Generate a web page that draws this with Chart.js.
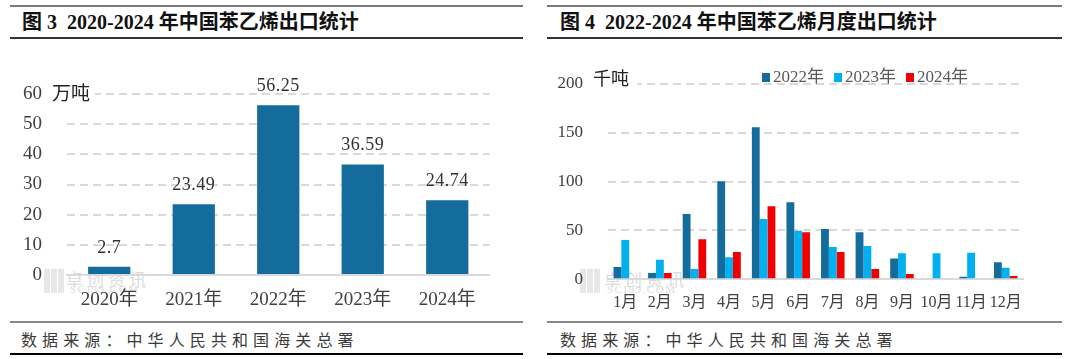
<!DOCTYPE html>
<html><head><meta charset="utf-8">
<script src="https://cdn.jsdelivr.net/npm/chart.js@4"></script>
<style>
body{margin:0;background:#fff;}
#page{position:relative;width:1080px;height:359px;overflow:hidden;background:#fff;}
.ln{position:absolute;height:2px;}
.title{position:absolute;top:9px;height:26px;line-height:26px;font-family:"Liberation Serif","Noto Sans CJK SC",serif;font-weight:bold;font-size:20px;color:#111;white-space:pre;}
.src{position:absolute;top:327px;height:24px;line-height:24px;font-family:"Noto Sans CJK SC",sans-serif;font-size:16px;letter-spacing:5.1px;color:#3a3a3a;white-space:pre;}
.wm{position:absolute;color:#dcdcdc;white-space:pre;}
.wmlogo{position:absolute;width:21px;height:24px;background:repeating-linear-gradient(90deg,#e2e2e2 0 6px,#fff 6px 7px),#e2e2e2;opacity:.8;}
canvas{position:absolute;}
</style></head>
<body>
<div id="page">
  <!-- left panel -->
  <div class="ln" style="left:10px;width:513px;top:5px;background:#7a7a7a"></div>
  <div class="title" style="left:22px">图 3  2020-2024 年中国苯乙烯出口统计</div>
  <div class="ln" style="left:10px;width:513px;top:37px;background:#333"></div>
  <div class="wmlogo" style="left:44px;top:269px"></div>
  <div class="wm" style="left:66px;top:266px;font-family:'Noto Sans CJK SC';font-size:17px;letter-spacing:4px">卓创资讯</div>
  <div class="wm" style="left:70px;top:283px;font-family:'Liberation Serif';font-size:11px;letter-spacing:1.5px">SCI99.COM</div>
  <canvas id="c1" width="513" height="280" style="left:10px;top:40px"></canvas>
  <div class="ln" style="left:10px;width:513px;top:321px;background:#888"></div>
  <div class="src" style="left:21px">数据来源：中华人民共和国海关总署</div>
  <div class="ln" style="left:10px;width:513px;top:353px;background:#000"></div>

  <!-- right panel -->
  <div class="ln" style="left:547px;width:515px;top:5px;background:#7a7a7a"></div>
  <div class="title" style="left:560px">图 4  2022-2024 年中国苯乙烯月度出口统计</div>
  <div class="ln" style="left:547px;width:515px;top:37px;background:#333"></div>
  <div class="wmlogo" style="left:580px;top:269px"></div>
  <div class="wm" style="left:604px;top:266px;font-family:'Noto Sans CJK SC';font-size:17px;letter-spacing:4px">卓创资讯</div>
  <div class="wm" style="left:607px;top:283px;font-family:'Liberation Serif';font-size:11px;letter-spacing:1.5px">SCI99.COM</div>
  <canvas id="c2" width="515" height="280" style="left:547px;top:40px"></canvas>
  <div class="ln" style="left:547px;width:515px;top:321px;background:#888"></div>
  <div class="src" style="left:560px">数据来源：中华人民共和国海关总署</div>
  <div class="ln" style="left:547px;width:515px;top:353px;background:#000"></div>
</div>
<script>
// ---- data ----
const yearCats = ['2020年','2021年','2022年','2023年','2024年'];
const yearVals = [2.7, 23.49, 56.25, 36.59, 24.74];
const yearTicks = [0,10,20,30,40,50,60];
const yearUnit = '万吨';

const months = ['1月','2月','3月','4月','5月','6月','7月','8月','9月','10月','11月','12月'];
const seriesNames = ['2022年','2023年','2024年'];
const exp2022 = [12.6, 6.5, 66.9, 100.3, 155.6, 78.8, 51.5, 48.1, 21.2, null, 2.7, 17.4];
const exp2023 = [40.3, 20.1, 10.6, 22.5, 61.8, 49.8, 33.1, 34.1, 26.6, 26.6, 27.3, 11.9];
const exp2024 = [null, 6.5, 41.0, 28.0, 74.7, 48.1, 28.0, 10.6, 5.5, null, null, 3.4];
const monthTicks = [0,50,100,150,200];
const monthUnit = '千吨';

const SERIF = '"Liberation Serif", "Noto Sans CJK SC", serif';
Chart.defaults.font.family = SERIF;
Chart.defaults.color = '#404040';
Chart.defaults.animation = false;

function unitLabel(text, x, y, rect, size){
  return {
    id:'unit',
    afterDraw(chart){
      const ctx = chart.ctx;
      ctx.save();
      ctx.fillStyle = '#fff';
      ctx.fillRect(rect[0], rect[1], rect[2], rect[3]);
      ctx.fillStyle = '#222';
      ctx.font = size + 'px "Noto Sans CJK SC"';
      ctx.textBaseline = 'middle';
      ctx.textAlign = 'left';
      ctx.fillText(text, x, y);
      ctx.restore();
    }
  };
}

const valueLabels = {
  id:'valueLabels',
  afterDatasetsDraw(chart){
    const ctx = chart.ctx;
    const meta = chart.getDatasetMeta(0);
    const ds = chart.data.datasets[0];
    ctx.save();
    ctx.fillStyle = '#333';
    ctx.font = '18px "Liberation Serif"';
    ctx.textAlign = 'center';
    ctx.textBaseline = 'middle';
    ctx.letterSpacing = '0.5px';
    meta.data.forEach((bar, i) => {
      ctx.fillText(String(ds.data[i]), bar.x, bar.y - 19);
    });
    ctx.restore();
  }
};

const customLegend = {
  id:'customLegend',
  afterDraw(chart){
    const ctx = chart.ctx;
    ctx.save();
    ctx.font = '17px ' + SERIF;
    ctx.textBaseline = 'middle';
    ctx.textAlign = 'left';
    let x = 215;
    const y = 38;
    chart.data.datasets.forEach(ds => {
      ctx.fillStyle = ds.backgroundColor;
      ctx.fillRect(x, 33, 8, 9);
      ctx.fillStyle = '#595959';
      ctx.fillText(ds.label, x + 11, y);
      x += 11 + ctx.measureText(ds.label).width + 10;
    });
    ctx.restore();
  }
};

function yScale(ticks, width, fontSize){
  return {
    min: ticks[0], max: ticks[ticks.length-1],
    ticks:{ stepSize: ticks[1]-ticks[0], padding: 25, font:{size:fontSize}, color:'#404040' },
    grid:{ color:'#d9d9d9', lineWidth:2, drawTicks:false },
    border:{ display:false, dash:[8,5] },
    afterFit(s){ s.width = width; }
  };
}
function xScale(height, fontSize){
  return {
    ticks:{ padding: 14, font:{size:fontSize}, color:'#404040', maxRotation:0, autoSkip:false },
    grid:{ display:false, drawTicks:false },
    border:{ display:true, color:'#d9d9d9', width:2 },
    afterFit(s){ s.height = height; }
  };
}

new Chart(document.getElementById('c1'), {
  type:'bar',
  data:{ labels: yearCats, datasets:[{ label:'出口量', data: yearVals, backgroundColor:'#146c9c', barPercentage:0.5, categoryPercentage:1 }] },
  options:{
    responsive:false,
    layout:{ padding:{ top:54, right:33.5, left:0, bottom:0 } },
    plugins:{ legend:{display:false}, tooltip:{enabled:false} },
    scales:{ x: xScale(45, 19), y: yScale(yearTicks, 57, 19) }
  },
  plugins:[valueLabels, unitLabel(yearUnit, 42, 53, [40, 42, 45, 22], 19)]
});

new Chart(document.getElementById('c2'), {
  type:'bar',
  data:{ labels: months, datasets:[
    { label: seriesNames[0], data: exp2022, backgroundColor:'#146c9c', barPercentage:1, categoryPercentage:0.68 },
    { label: seriesNames[1], data: exp2023, backgroundColor:'#00b0f0', barPercentage:1, categoryPercentage:0.68 },
    { label: seriesNames[2], data: exp2024, backgroundColor:'#f00000', barPercentage:1, categoryPercentage:0.68 }
  ]},
  options:{
    responsive:false,
    layout:{ padding:{ top:44, right:39, left:0, bottom:0 } },
    plugins:{ legend:{display:false}, tooltip:{enabled:false} },
    scales:{ x: xScale(40.7, 16), y: yScale(monthTicks, 61, 17) }
  },
  plugins:[customLegend, unitLabel(monthUnit, 46, 38, [44, 28, 46, 20], 18)]
});
</script>
</body></html>
